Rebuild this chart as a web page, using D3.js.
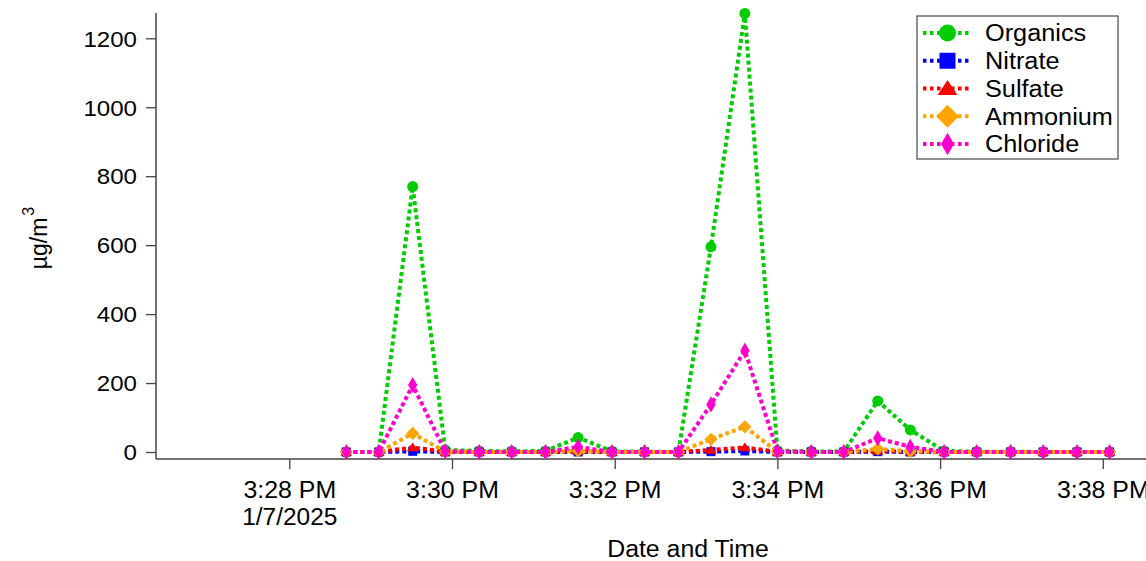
<!DOCTYPE html>
<html>
<head>
<meta charset="utf-8">
<script src="https://cdn.jsdelivr.net/npm/d3@7"></script>
<style>
  html, body { margin: 0; padding: 0; background: #fff; }
  svg { display: block; }
  text { font-family: "Liberation Sans", Arial, sans-serif; fill: #000; }
</style>
</head>
<body>
<svg id="chart" width="1146" height="561"></svg>
<script>
// ---- data ----
const sampleDate = "2025-01-07";
const times = ["15:28:42","15:29:06","15:29:31","15:29:55","15:30:20","15:30:44","15:31:09","15:31:33",
               "15:31:58","15:32:22","15:32:47","15:33:11","15:33:36","15:34:00","15:34:25","15:34:49",
               "15:35:14","15:35:38","15:36:03","15:36:27","15:36:52","15:37:16","15:37:41","15:38:05"];
const organics = [0, 0, 770, 6, 3, 2, 3, 42, 2, 1, 0, 595, 1272, 4, 2, 1, 148, 64, 3, 1, 1, 0, 0, 0];
const nitrate  = [0, 0, 2, 0, 0, 0, 0, 0, 0, 0, 0, 1, 3, 0, 0, 0, 1, 0, 0, 0, 0, 0, 0, 0];
const sulfate  = [0, 0, 13, 1, 0, 0, 0, 2, 0, 0, 0, 6, 13, 1, 0, 0, 3, 1, 0, 0, 0, 0, 0, 0];
const ammonium = [0, 0, 54, 1, 0, 0, 0, 3, 0, 0, 0, 37, 73, 1, 0, 0, 9, 2, 0, 0, 0, 0, 0, 0];
const chloride = [0, 0, 194, 2, 0, 0, 0, 15, 0, 0, 0, 138, 294, 2, 0, 0, 40, 15, 0, 0, 0, 0, 0, 0];
const seriesNames = ["Organics", "Nitrate", "Sulfate", "Ammonium", "Chloride"];
const seriesColors = ["#00cc00", "#0000ff", "#ff0000", "#ffa500", "#ff00cc"];
const seriesShapes = ["circle", "square", "triangle", "diamond", "thinDiamond"];
const yTicks = [0, 200, 400, 600, 800, 1000, 1200];
const xTickTimes = ["15:28:00","15:30:00","15:32:00","15:34:00","15:36:00","15:38:00"];
const xTickLabels = ["3:28 PM","3:30 PM","3:32 PM","3:34 PM","3:36 PM","3:38 PM"];
const firstTickDate = "1/7/2025";
const xTitle = "Date and Time";
const yTitle = "µg/m";
const yTitleSup = "3";

// ---- setup ----
const parse = d3.timeParse("%Y-%m-%d %H:%M:%S");
const T = s => parse(sampleDate + " " + s);
const svg = d3.select("#chart");
function stretch(sel, f) {
  sel.each(function () {
    const len = this.getComputedTextLength();
    if (len > 0) {
      d3.select(this).attr("textLength", len * f).attr("lengthAdjust", "spacingAndGlyphs");
    }
  });
}

const xBase = d3.scaleTime().domain([T(xTickTimes[0]), T(xTickTimes[5])]).range([289.3, 1102.8]);
const x = d3.scaleTime().domain([xBase.invert(156), xBase.invert(1146)]).range([156, 1146]);
const y = d3.scaleLinear().domain([0, 1200]).range([452, 38.3]);

const axisColor = "#444";

// Y axis
const yAxis = svg.append("g").attr("transform", "translate(156,0)")
  .call(d3.axisLeft(y).tickValues(yTicks).tickSize(10).tickPadding(9).tickFormat(d3.format("d")));
yAxis.select(".domain").remove();
yAxis.selectAll(".tick line").attr("stroke", axisColor).attr("stroke-width", 1.3);
yAxis.selectAll(".tick text").attr("font-size", 21.5).attr("dy", "0.36em")
  .style("font-family", '"Liberation Sans", Arial, sans-serif');
stretch(yAxis.selectAll(".tick text"), 1.12);
svg.append("line").attr("x1", 156).attr("x2", 156).attr("y1", 13).attr("y2", 459)
  .attr("stroke", axisColor).attr("stroke-width", 1.5);

// X axis
const xAxis = svg.append("g").attr("transform", "translate(0,459)")
  .call(d3.axisBottom(x).tickValues(xTickTimes.map(T)).tickSize(10)
    .tickFormat((d, i) => xTickLabels[i]));
xAxis.select(".domain").remove();
xAxis.selectAll(".tick line").attr("stroke", axisColor).attr("stroke-width", 1.3);
xAxis.selectAll(".tick text").attr("font-size", 23.5).attr("y", 38.5).attr("dy", 0)
  .style("font-family", '"Liberation Sans", Arial, sans-serif');
stretch(xAxis.selectAll(".tick text"), 1.06);
xAxis.select(".tick").append("text")
  .attr("y", 66).attr("fill", "#000").attr("text-anchor", "middle")
  .attr("font-size", 23.5).text(firstTickDate)
  .call(s => stretch(s, 1.04));
svg.append("line").attr("x1", 156).attr("x2", 1146).attr("y1", 459).attr("y2", 459)
  .attr("stroke", axisColor).attr("stroke-width", 1.5);

// Axis titles
svg.append("text").attr("x", 688).attr("y", 557).attr("text-anchor", "middle")
  .attr("font-size", 23).text(xTitle).call(s => stretch(s, 1.08));
const yt = svg.append("text").attr("transform", "translate(47,238) rotate(-90)")
  .attr("text-anchor", "middle").attr("font-size", 23);
yt.append("tspan").text(yTitle);
yt.append("tspan").attr("font-size", 16).attr("dy", -13).attr("dx", 2).text(yTitleSup);

// ---- marker shapes ----
function shapePath(type, s) {
  const h = s / 2;
  switch (type) {
    case "circle": return d3.symbol(d3.symbolCircle, Math.PI * h * h)();
    case "square": return `M${-h},${-h}H${h}V${h}H${-h}Z`;
    case "triangle": { const w = s * 0.58; return `M0,${-h}L${w},${h * 0.75}L${-w},${h * 0.75}Z`; }
    case "diamond": { const d = s * 0.6; return `M0,${-d}L${d},0L0,${d}L${-d},0Z`; }
    case "thinDiamond": { const hw = s * 0.36, hh = s * 0.62; return `M0,${-hh}L${hw},0L0,${hh}L${-hw},0Z`; }
  }
}
const markerSize = [11, 9, 10, 11, 13];
const legendMarkerSize = [17, 16, 17, 19, 18];

const allSeries = [organics, nitrate, sulfate, ammonium, chloride];
const line = d3.line().x(d => x(d.t)).y(d => y(d.v));

allSeries.forEach((vals, i) => {
  const data = vals.map((v, j) => ({ t: T(times[j]), v }));
  const g = svg.append("g");
  g.append("path").datum(data).attr("d", line).attr("fill", "none")
    .attr("stroke", seriesColors[i]).attr("stroke-width", 4)
    .attr("stroke-dasharray", "4,3");
  g.selectAll("path.m").data(data).join("path").attr("class", "m")
    .attr("transform", d => `translate(${x(d.t)},${y(d.v)})`)
    .attr("d", shapePath(seriesShapes[i], markerSize[i]))
    .attr("fill", seriesColors[i]);
});

// ---- legend ----
const lg = svg.append("g");
lg.append("rect").attr("x", 917).attr("y", 16).attr("width", 201).attr("height", 143)
  .attr("fill", "#fff").attr("stroke", "#555").attr("stroke-width", 1.3);
seriesNames.forEach((name, i) => {
  const cy = 33 + i * 27.75;
  lg.append("line").attr("x1", 923).attr("x2", 972).attr("y1", cy).attr("y2", cy)
    .attr("stroke", seriesColors[i]).attr("stroke-width", 3.8).attr("stroke-dasharray", "3.5,3.5");
  lg.append("path").attr("transform", `translate(947.5,${cy})`)
    .attr("d", shapePath(seriesShapes[i], legendMarkerSize[i])).attr("fill", seriesColors[i]);
  lg.append("text").attr("x", 985).attr("y", cy).attr("dy", "0.36em")
    .attr("font-size", 23).text(name).call(s => stretch(s, 1.1));
});
</script>
</body>
</html>
